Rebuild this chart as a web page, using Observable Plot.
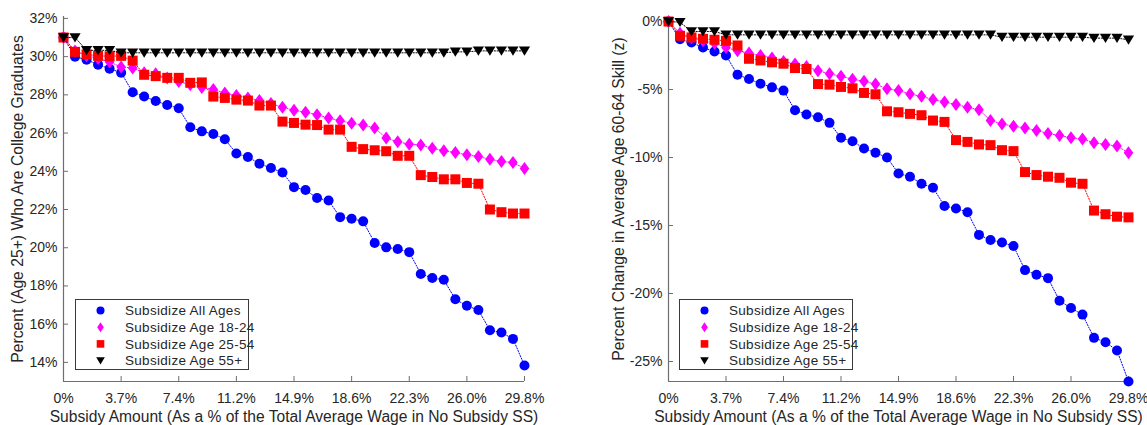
<!DOCTYPE html>
<html>
<head>
<meta charset="utf-8">
<script src="https://cdn.jsdelivr.net/npm/d3@7"></script>
<script src="https://cdn.jsdelivr.net/npm/@observablehq/plot@0.6"></script>
<style>
  html, body { margin: 0; padding: 0; background: #fff; }
  #wrap { position: relative; width: 1147px; height: 425px; font-family: "Liberation Sans", Arial, sans-serif; }
  .panel { position: absolute; top: 0; }
  #legendLayer { position: absolute; left: 0; top: 0; pointer-events: none; }
</style>
</head>
<body>
<div id="wrap"></div>
<script>
// ---------- data ----------
const subsidy = [0, 0.745, 1.49, 2.235, 2.98, 3.725, 4.47, 5.215, 5.96, 6.705, 7.45, 8.195, 8.94, 9.685, 10.43, 11.175, 11.92, 12.665, 13.41, 14.155, 14.9, 15.645, 16.39, 17.135, 17.88, 18.625, 19.37, 20.115, 20.86, 21.605, 22.35, 23.095, 23.84, 24.585, 25.33, 26.075, 26.82, 27.565, 28.31, 29.055, 29.8];
const xTicks = [0, 3.725, 7.45, 11.175, 14.9, 18.625, 22.35, 26.075, 29.8];
const xTickLabels = ["0%", "3.7%", "7.4%", "11.2%", "14.9%", "18.6%", "22.3%", "26.0%", "29.8%"];
const seriesNames = ["Subsidize All Ages", "Subsidize Age 18-24", "Subsidize Age 25-54", "Subsidize Age 55+"];

// Left panel: Percent (Age 25+) who are college graduates
const gradAll = [31.0, 30.0, 29.84, 29.58, 29.37, 29.16, 28.14, 27.91, 27.68, 27.47, 27.3, 26.3, 26.09, 25.95, 25.68, 24.93, 24.75, 24.4, 24.17, 23.94, 23.17, 23.02, 22.6, 22.47, 21.6, 21.52, 21.38, 20.25, 20.02, 19.93, 19.77, 18.63, 18.42, 18.32, 17.3, 16.96, 16.74, 15.68, 15.56, 15.23, 13.84];
const grad1824 = [31.0, 30.3, 30.05, 29.9, 29.72, 29.46, 29.4, 29.16, 29.1, 28.88, 28.7, 28.53, 28.39, 28.28, 28.1, 27.96, 27.84, 27.7, 27.55, 27.35, 27.19, 27.09, 26.96, 26.79, 26.65, 26.51, 26.42, 26.26, 25.74, 25.54, 25.42, 25.37, 25.21, 25.07, 24.98, 24.86, 24.77, 24.63, 24.51, 24.46, 24.14];
const grad2554 = [31.0, 30.25, 30.12, 30.04, 30.02, 30.04, 29.79, 29.05, 28.98, 28.89, 28.89, 28.63, 28.65, 27.91, 27.84, 27.75, 27.7, 27.44, 27.44, 26.6, 26.53, 26.44, 26.42, 26.18, 26.18, 25.28, 25.16, 25.1, 25.05, 24.81, 24.81, 23.8, 23.7, 23.58, 23.58, 23.39, 23.35, 22.0, 21.86, 21.79, 21.79];
const grad55 = [31.0, 31.0, 30.33, 30.33, 30.33, 30.2, 30.2, 30.2, 30.2, 30.2, 30.2, 30.2, 30.2, 30.2, 30.2, 30.2, 30.2, 30.2, 30.2, 30.2, 30.2, 30.2, 30.2, 30.2, 30.2, 30.2, 30.2, 30.2, 30.2, 30.2, 30.2, 30.2, 30.2, 30.2, 30.25, 30.25, 30.3, 30.3, 30.3, 30.3, 30.3];
const gradTicks = [14, 16, 18, 20, 22, 24, 26, 28, 30, 32];

// Right panel: Percent change in average age 60-64 skill (z)
const skillAll = [0, -1.3, -1.54, -1.91, -2.2, -2.49, -3.91, -4.23, -4.57, -4.84, -5.08, -6.52, -6.84, -7.04, -7.45, -8.55, -8.8, -9.33, -9.65, -10.0, -11.17, -11.41, -11.93, -12.22, -13.56, -13.75, -14.02, -15.69, -16.06, -16.25, -16.5, -18.28, -18.62, -18.87, -20.53, -21.07, -21.55, -23.26, -23.58, -24.19, -26.47];
const skill1824 = [0, -0.86, -1.17, -1.42, -1.59, -1.91, -2.15, -2.32, -2.49, -2.69, -2.93, -3.13, -3.3, -3.62, -3.84, -4.03, -4.24, -4.4, -4.6, -4.94, -5.08, -5.33, -5.5, -5.74, -5.91, -6.11, -6.3, -6.48, -7.28, -7.53, -7.7, -7.82, -8.01, -8.23, -8.38, -8.55, -8.63, -8.92, -9.04, -9.16, -9.65];
const skill2554 = [0, -1.05, -1.17, -1.27, -1.34, -1.42, -1.76, -2.74, -2.86, -3.0, -3.1, -3.42, -3.49, -4.6, -4.64, -4.81, -4.91, -5.25, -5.35, -6.6, -6.67, -6.79, -6.89, -7.28, -7.38, -8.72, -8.85, -9.04, -9.09, -9.46, -9.53, -11.07, -11.29, -11.41, -11.49, -11.85, -11.93, -13.9, -14.17, -14.35, -14.4];
const skill55 = [0, -0.05, -0.73, -0.73, -0.73, -0.98, -0.98, -0.98, -0.98, -0.98, -0.98, -0.98, -0.98, -0.98, -0.98, -0.98, -0.98, -0.98, -0.98, -0.98, -0.98, -0.98, -0.98, -0.98, -0.98, -0.98, -0.98, -0.98, -0.98, -1.15, -1.15, -1.15, -1.15, -1.15, -1.15, -1.15, -1.15, -1.22, -1.22, -1.22, -1.34];
const skillTicks = [-25, -20, -15, -10, -5, 0];

// ---------- styling ----------
const colors = ["#0000ff", "#ff00ff", "#ff0000", "#000000"];
const axisGray = "#6e6e6e";
const textColor = "#262626";
const font = '"Liberation Sans", Arial, Helvetica, sans-serif';

const symCircle = {draw(ctx) { ctx.moveTo(5, 0); ctx.arc(0, 0, 5, 0, 2 * Math.PI); }};
const symDiamond = {draw(ctx) { ctx.moveTo(0, -6.5); ctx.lineTo(4.8, 0); ctx.lineTo(0, 6.5); ctx.lineTo(-4.8, 0); ctx.closePath(); }};
const symSquare = {draw(ctx) { ctx.rect(-5, -5, 10, 10); }};
const symTriDown = {draw(ctx) { ctx.moveTo(-5.6, -4.3); ctx.lineTo(5.6, -4.3); ctx.lineTo(0, 4.9); ctx.closePath(); }};
const symbols = [symCircle, symDiamond, symSquare, symTriDown];

function rows(ys) { return subsidy.map((x, i) => ({x, y: ys[i]})); }

function seriesMarks(allSeries) {
  const marks = [];
  allSeries.forEach((ys, k) => {
    const data = rows(ys);
    marks.push(Plot.line(data, {x: "x", y: "y", stroke: colors[k], strokeWidth: 1, strokeDasharray: "1.2,1.6"}));
    marks.push(Plot.dot(data, {x: "x", y: "y", symbol: symbols[k], r: 5, fill: colors[k], stroke: "none"}));
  });
  return marks;
}

function makePanel({width, marginLeft, marginRight, yDomain, yTicks, series, yTitle, yTitleDx}) {
  return Plot.plot({
    width, height: 425,
    marginLeft, marginRight, marginTop: 16, marginBottom: 44,
    x: {domain: [0, 29.8]},
    y: {domain: yDomain},
    style: {fontFamily: font, fontSize: "14px", color: textColor, background: "transparent", overflow: "visible"},
    marks: [
      Plot.ruleX([0], {stroke: axisGray, strokeWidth: 1.2}),
      Plot.ruleY([yDomain[0]], {stroke: axisGray, strokeWidth: 1.2}),
      Plot.axisX({ticks: xTicks, tickFormat: d => xTickLabels[xTicks.indexOf(d)], tickSize: -5, tickPadding: 17, stroke: axisGray, fill: textColor, fontSize: 14, label: null}),
      Plot.axisY({ticks: yTicks, tickFormat: d => d + "%", tickSize: -5, tickPadding: 11, stroke: axisGray, fill: textColor, fontSize: 14, label: null}),
      ...seriesMarks(series),
      Plot.text([yTitle], {text: d => d, frameAnchor: "left", textAnchor: "middle", lineAnchor: "middle", dx: yTitleDx, rotate: -90, fill: textColor, fontSize: 15.7}),
      Plot.text(["Subsidy Amount (As a % of the Total Average Wage in No Subsidy SS)"], {text: d => d, frameAnchor: "bottom", textAnchor: "middle", lineAnchor: "middle", dy: 35, fill: textColor, fontSize: 15.6})
    ]
  });
}

const wrap = document.getElementById("wrap");

const left = makePanel({
  width: 575, marginLeft: 63, marginRight: 51,
  yDomain: [13, 32.1], yTicks: gradTicks,
  series: [gradAll, grad1824, grad2554, grad55],
  yTitle: "Percent (Age 25+) Who Are College Graduates", yTitleDx: -46
});
const leftDiv = document.createElement("div");
leftDiv.className = "panel"; leftDiv.style.left = "0px";
leftDiv.appendChild(left);
wrap.appendChild(leftDiv);

const right = makePanel({
  width: 572, marginLeft: 93, marginRight: 19,
  yDomain: [-26.47, 0.37], yTicks: skillTicks,
  series: [skillAll, skill1824, skill2554, skill55],
  yTitle: "Percent Change in Average Age 60-64 Skill (z)", yTitleDx: -50
});
const rightDiv = document.createElement("div");
rightDiv.className = "panel"; rightDiv.style.left = "575px";
rightDiv.appendChild(right);
wrap.appendChild(rightDiv);

// ---------- legends (overlay SVG) ----------
const legendShapes = [
  g => g.append("circle").attr("r", 4),
  g => g.append("path").attr("d", "M0,-5 L3.3,0 L0,5 L-3.3,0Z"),
  g => g.append("rect").attr("x", -3.8).attr("y", -3.8).attr("width", 7.6).attr("height", 7.6),
  g => g.append("path").attr("d", "M-4.3,-3.4 L4.3,-3.4 L0,3.9Z")
];
const layer = d3.select(wrap).append("svg").attr("id", "legendLayer").attr("width", 1147).attr("height", 425);
function legend(x0, y0) {
  const g = layer.append("g").attr("transform", `translate(${x0},${y0})`);
  g.append("rect").attr("x", 0.5).attr("y", 0.5).attr("width", 173).attr("height", 70)
    .attr("fill", "#fff").attr("stroke", "#3a3a3a").attr("stroke-width", 1);
  seriesNames.forEach((name, k) => {
    const row = g.append("g").attr("transform", `translate(0,${11.5 + k * 16.7})`);
    legendShapes[k](row.append("g").attr("transform", "translate(25.5,0)").attr("fill", colors[k]));
    row.append("text").attr("x", 50).attr("dy", "0.35em").attr("fill", textColor)
      .style("font-family", font).style("font-size", "13.5px").style("letter-spacing", "0.3px").text(name);
  });
}
legend(75, 299);
legend(679, 299);
</script>
</body>
</html>
